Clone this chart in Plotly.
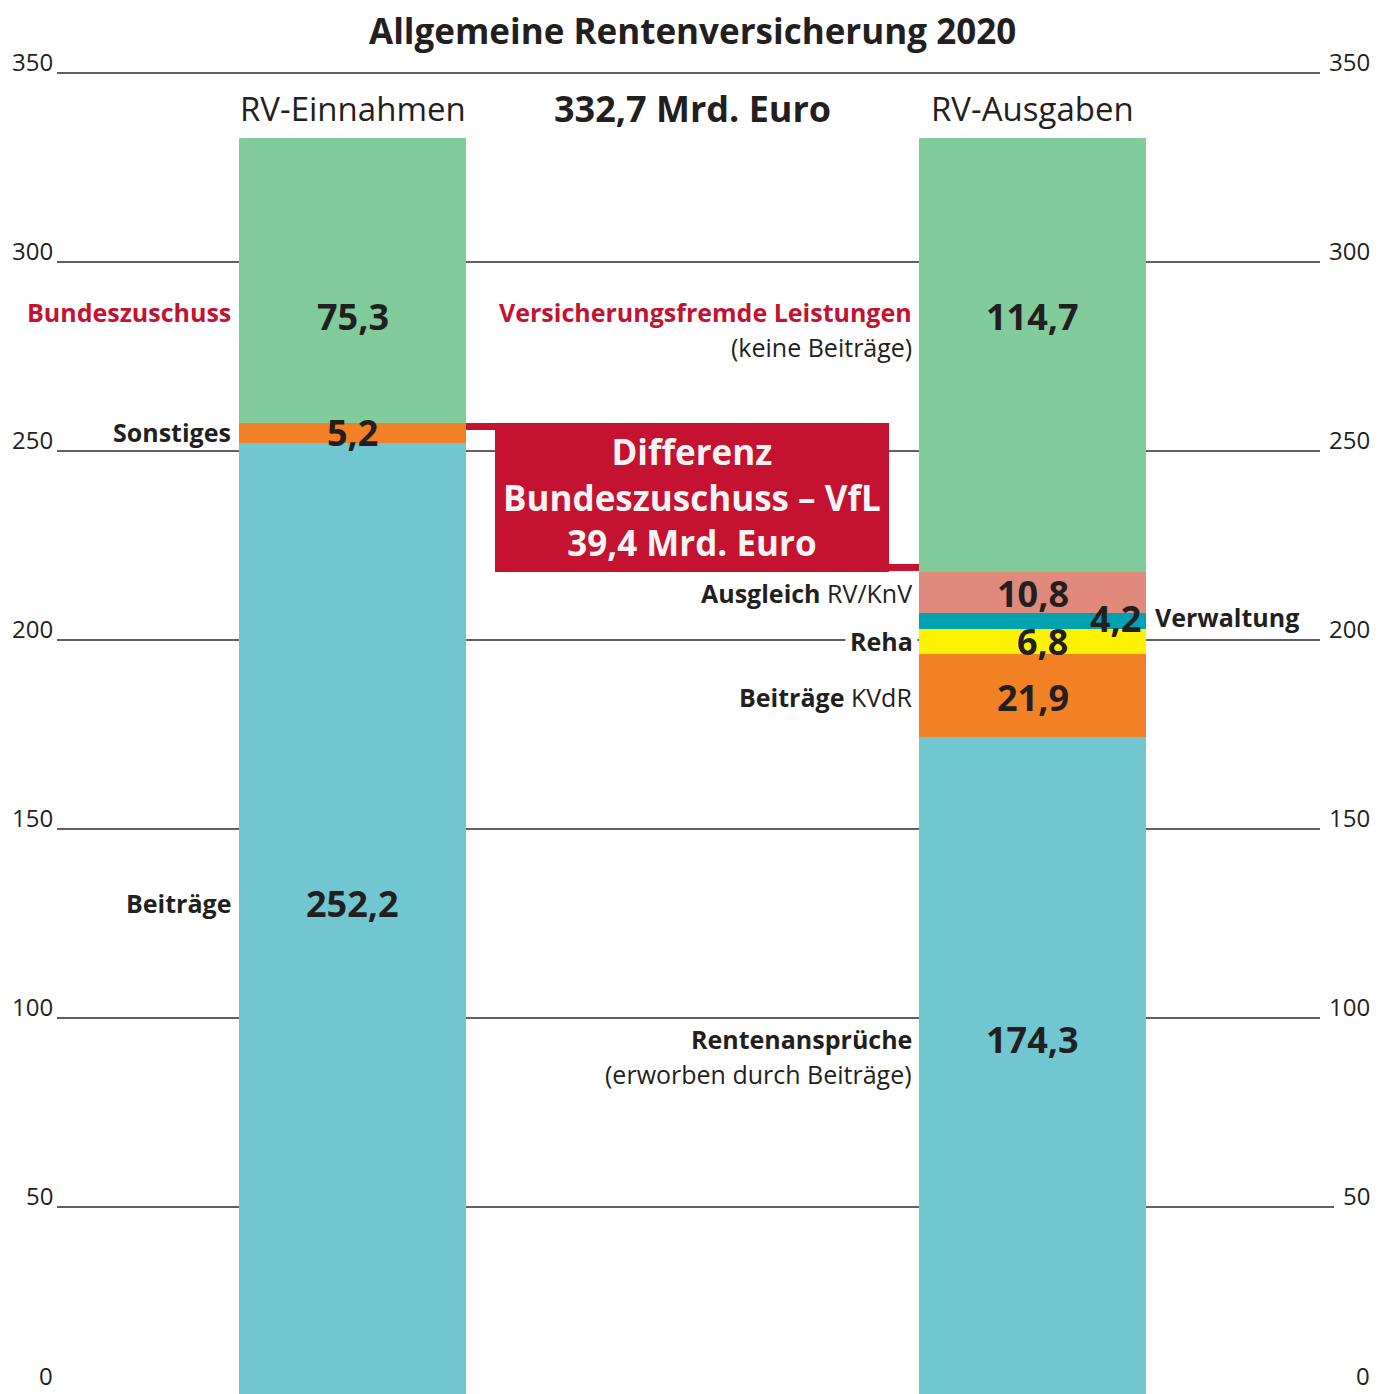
import plotly.graph_objects as go

# ---------------- data ----------------
categories = ["RV-Einnahmen", "RV-Ausgaben"]

einnahmen_labels = ["Beiträge", "Sonstiges", "Bundeszuschuss"]
einnahmen_values = [252.2, 5.2, 75.3]
einnahmen_colors = ["#71c7d0", "#f28025", "#82cb9b"]

ausgaben_labels = ["Rentenansprüche", "Beiträge KVdR", "Reha", "Verwaltung",
                   "Ausgleich RV/KnV", "Versicherungsfremde Leistungen"]
ausgaben_values = [174.3, 21.9, 6.8, 4.2, 10.8, 114.7]
ausgaben_colors = ["#71c7d0", "#f28025", "#fff200", "#00a1b0", "#e0897d", "#82cb9b"]

total_text = "332,7 Mrd. Euro"
difference_text = "39,4 Mrd. Euro"
tick_values = [0, 50, 100, 150, 200, 250, 300, 350]
tick_labels = ["0", "50", "100", "150", "200", "250", "300", "350"]

# ---------------- layout helpers ----------------
OFF = 8                      # browser body margin
W, H = 1388 - OFF, 1394 - OFF
FONT = "Open Sans"
DARK = "#231f20"
RED = "#c41230"
SCALE = 3.78                 # pixels per data unit
ZERO_PX = 1396               # page pixel of value 0
Y_MIN = (ZERO_PX - 1394) / SCALE
Y_MAX = (ZERO_PX - OFF) / SCALE


def fmt(v):
    return f"{v:.1f}".replace(".", ",")


def px(x):
    return (x - OFF) / W


def py(y):
    return 1 - (y - OFF) / H


fig = go.Figure()

for lab, val, col in zip(einnahmen_labels, einnahmen_values, einnahmen_colors):
    fig.add_trace(go.Bar(x=[categories[0]], y=[val], name=lab, marker_color=col,
                         marker_line_width=0, width=227 / 680, showlegend=False,
                         hoverinfo="name+y"))
for lab, val, col in zip(ausgaben_labels, ausgaben_values, ausgaben_colors):
    fig.add_trace(go.Bar(x=[categories[1]], y=[val], name=lab, marker_color=col,
                         marker_line_width=0, width=227 / 680, showlegend=False,
                         hoverinfo="name+y"))

shapes = []
annotations = []

# grid lines with labels on both sides (labels sit just above their line)
lab_dy = 12 / SCALE
min_lab_y = Y_MIN + 19 / SCALE   # keep the lowest label fully inside the picture
for v, t in zip(tick_values, tick_labels):
    right_end = 1370 - 8 - len(t) * 14
    shapes.append(dict(type="line", xref="paper", yref="y", x0=px(57), x1=px(right_end),
                       y0=v, y1=v, line=dict(color="#2b2b2b", width=1.5), layer="below"))
    ly = max(v + lab_dy, min_lab_y)
    annotations.append(dict(xref="paper", yref="y", x=px(55), y=ly, text=t,
                            showarrow=False, xanchor="right", yanchor="middle",
                            font=dict(family=FONT, size=24, color=DARK)))
    annotations.append(dict(xref="paper", yref="y", x=px(1372), y=ly, text=t,
                            showarrow=False, xanchor="right", yanchor="middle",
                            font=dict(family=FONT, size=24, color=DARK)))

# difference box between top of "Sonstiges" and bottom of VfL
ein_top = einnahmen_values[0] + einnahmen_values[1]
aus_top = sum(ausgaben_values[:5])
u = 1 / SCALE  # data units per pixel
shapes.append(dict(type="rect", xref="paper", yref="y", x0=px(495), x1=px(889),
                   y0=aus_top, y1=ein_top, fillcolor=RED, line_width=0, layer="above"))
shapes.append(dict(type="rect", xref="paper", yref="y", x0=px(466), x1=px(496),
                   y0=ein_top - 7 * u, y1=ein_top, fillcolor=RED, line_width=0, layer="above"))
shapes.append(dict(type="rect", xref="paper", yref="y", x0=px(888), x1=px(919),
                   y0=aus_top + 1 * u, y1=aus_top + 8 * u, fillcolor=RED, line_width=0, layer="above"))
annotations.append(dict(xref="paper", yref="y", x=px(692), y=(ein_top + aus_top) / 2,
                        text="<b>Differenz<br>Bundeszuschuss – VfL<br>" + difference_text + "</b>",
                        showarrow=False, xanchor="center", yanchor="middle", align="center",
                        font=dict(family=FONT, size=35, color="#f4f4f4")))

# title and headers
annotations.append(dict(xref="paper", yref="paper", x=px(692), y=1,
                        text="<b>Allgemeine Rentenversicherung 2020</b>", showarrow=False,
                        xanchor="center", yanchor="top", borderpad=0, yshift=2,
                        font=dict(family=FONT, size=35, color=DARK)))
for cat in categories:
    annotations.append(dict(xref="x", yref="paper", x=cat, y=py(109), text=cat,
                            showarrow=False, xanchor="center", yanchor="middle",
                            font=dict(family=FONT, size=33, color=DARK)))
annotations.append(dict(xref="paper", yref="paper", x=px(692), y=py(109),
                        text="<b>" + total_text + "</b>", showarrow=False,
                        xanchor="center", yanchor="middle",
                        font=dict(family=FONT, size=36, color=DARK)))


def value_label(cat, y, v, xshift=0):
    annotations.append(dict(xref="x", yref="y", x=cat, y=y, text="<b>" + fmt(v) + "</b>",
                            showarrow=False, xanchor="center", yanchor="middle",
                            xshift=xshift,
                            font=dict(family=FONT, size=36, color=DARK)))


def side_label(x, y, text, color=DARK, anchor="right", bg=None):
    d = dict(xref="paper", yref="y", x=px(x), y=y, text=text, showarrow=False,
             xanchor=anchor, yanchor="middle",
             font=dict(family=FONT, size=25, color=color))
    if bg:
        d["bgcolor"] = bg
        d["borderpad"] = 4
    annotations.append(d)


# Einnahmen labels
value_label(categories[0], 285.7, einnahmen_values[2])
value_label(categories[0], 254.8, einnahmen_values[1])
value_label(categories[0], 130.2, einnahmen_values[0])
side_label(233, 286.8, "<b>" + einnahmen_labels[2] + "</b>", color=RED)
side_label(233, 254.9, "<b>" + einnahmen_labels[1] + "</b>")
side_label(233, 130.4, "<b>" + einnahmen_labels[0] + "</b>")

# Ausgaben labels
value_label(categories[1], 285.7, ausgaben_values[5])
value_label(categories[1], 212.2, ausgaben_values[4])
value_label(categories[1], 205.6, ausgaben_values[3], xshift=83)
value_label(categories[1], 199.6, ausgaben_values[2], xshift=10)
value_label(categories[1], 184.7, ausgaben_values[1])
value_label(categories[1], 94.2, ausgaben_values[0])

side_label(914, 286.8, "<b>Versicherungsfremde Leistungen</b>", color=RED)
side_label(914, 277.6, "(keine Beiträge)")
side_label(914, 212.4, "<b>Ausgleich</b> RV/KnV")
side_label(1153, 206.0, "<b>" + ausgaben_labels[3] + "</b>", anchor="left")
side_label(918, 199.7, "<b>" + ausgaben_labels[2] + "</b>", bg="white")
side_label(914, 185.0, "<b>Beiträge</b> KVdR")
side_label(914, 94.5, "<b>" + ausgaben_labels[0] + "</b>")
side_label(914, 85.2, "(erworben durch Beiträge)")

cat0_px = 352.5 - OFF
fig.update_layout(
    width=W, height=H,
    margin=dict(l=0, r=0, t=0, b=0),
    paper_bgcolor="white", plot_bgcolor="white",
    barmode="stack",
    bargap=0,
    showlegend=False,
    shapes=shapes,
    annotations=annotations,
    xaxis=dict(type="category", range=[-cat0_px / 680, (W - cat0_px) / 680],
               showgrid=False, showticklabels=False, zeroline=False, showline=False,
               fixedrange=True),
    yaxis=dict(range=[Y_MIN, Y_MAX], showgrid=False,
               showticklabels=False, zeroline=False, showline=False, fixedrange=True),
    font=dict(family=FONT, color=DARK),
)

fig.write_html("out.html")
